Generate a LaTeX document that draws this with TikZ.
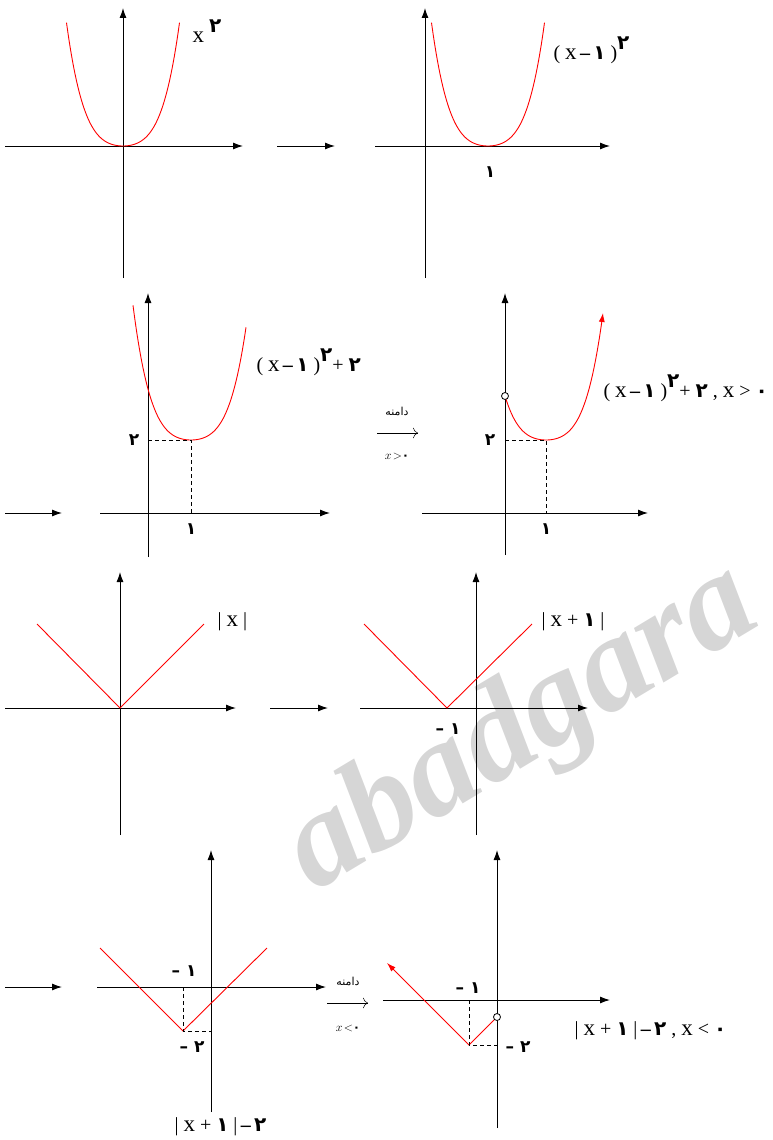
\documentclass[tikz,border=0pt]{standalone}
\usepackage{fontspec}
\setmainfont{Liberation Serif}
\newfontfamily\fafont[Script=Arabic]{DejaVu Sans}
\TeXXeTstate=1
\usetikzlibrary{arrows.meta}
\newcommand\fa[1]{{\fafont\bfseries #1}}
\newcommand\up[1]{\raisebox{0.5em}{\fa{#1}}}
\newcommand\mn{\,{\bfseries\textendash}\,}
\newcommand\xx{{\fontsize{23}{23}\selectfont x}}
\begin{document}
\begin{tikzpicture}[x=1pt,y=-1pt,>={Latex[length=10pt,width=7pt]},line width=1pt,
  curve/.style={red,line width=0.9pt},
  guide/.style={line width=0.8pt,dash pattern=on 4pt off 3pt},
  lab/.style={font=\fontsize{20}{22}\selectfont,inner sep=0pt,anchor=west},
  tick/.style={font=\fafont\bfseries\fontsize{17}{18}\selectfont,inner sep=0pt},
  small/.style={font=\fontsize{12}{13}\selectfont,inner sep=0pt},
  hole/.style={circle,draw,fill=white,inner sep=0pt,minimum size=7pt,line width=0.8pt},
  declare function={pb(\t)=1.233*(\t/10)*(\t/10)+0.0824*(\t/10)*(\t/10)*(\t/10)*(\t/10);}]
\useasboundingbox (0,0) rectangle (772,1140);
\node[rotate=31,anchor=base west,inner sep=0pt,text=black!16,font=\bfseries\itshape\fontsize{135}{135}\selectfont] (mark) at (314,893) {abadgara};
% row 1
\draw[->] (5,146) -- (243,146);
\draw[->] (123,278) -- (123,8);
\draw[curve] plot[domain=-56.5:56.5,samples=80,smooth] ({123+\x},{146-pb(\x)});
\node[lab] (f1) at (192,31) {\xx\ \up{۲}};
\draw[->] (277,146) -- (335,146);
\draw[->] (375,146) -- (610,146);
\draw[->] (425,278) -- (425,8);
\draw[curve] plot[domain=-56.5:56.5,samples=80,smooth] ({488+\x},{146-pb(\x)});
\node[tick] (one2) at (490,172) {۱};
\node[lab] (f2) at (553,50) {( \xx\mn\fa{۱} )\up{۲}};
% row 2
\draw[->] (5,513) -- (62,513);
\draw[->] (100,513) -- (330,513);
\draw[->] (148,557) -- (148,293);
\draw[curve] plot[domain=-58:55,samples=80,smooth] ({191+\x},{440-pb(\x)});
\draw[guide] (148,440) -- (191,440) -- (191,513);
\node[tick] (two3) at (134,440) {۲};
\node[tick] (one3) at (191,529) {۱};
\node[lab] (f3) at (256,362) {( \xx\mn\fa{۱} )\up{۲}+ \fa{۲}};
\node[small,font=\fafont\fontsize{11}{12}\selectfont] (dom1) at (397,411) {\beginR دامنه\endR};
\draw[-{To[length=5pt]},line width=0.5pt] (377,433) -- (418,433);
\node[small] (cond1) at (397,456) {$x\!>$\fa{۰}};
\draw[->] (422,513) -- (648,513);
\draw[->] (505,555) -- (505,293);
\draw[curve,-{Latex[length=9pt,width=6pt]}] plot[domain=-41:57,samples=80,smooth] ({546+\x},{440-pb(\x)});
\draw[guide] (505,440) -- (546,440) -- (546,513);
\node[hole] (open4) at (505,396) {};
\node[tick] (two4) at (490,440) {۲};
\node[tick] (one4) at (546,529) {۱};
\node[lab] (f4) at (603,388) {( \xx\mn\fa{۱} )\up{۲}+ \fa{۲} , \xx\ > \fa{۰}};
% row 3
\draw[->] (5,708) -- (236,708);
\draw[->] (120,835) -- (120,572);
\draw[curve] (37,624) -- (120,708) -- (204,624);
\node[lab] (f5) at (217,622) {| \xx\ |};
\draw[->] (270,708) -- (328,708);
\draw[->] (360,708) -- (588,708);
\draw[->] (476,835) -- (476,572);
\draw[curve] (364,624) -- (447,708) -- (532,624);
\node[tick] (m1six) at (448,729) {\textendash\ ۱};
\node[lab] (f6) at (541,622) {| \xx\ + \fa{۱} |};
% row 4
\draw[->] (5,987) -- (62,987);
\draw[->] (97,987) -- (326,987);
\draw[->] (211,1112) -- (211,850);
\draw[curve] (100,948) -- (183,1031) -- (267,948);
\draw[guide] (183,987) -- (183,1031) -- (211,1031);
\node[tick] (m1sev) at (184,971) {\textendash\ ۱};
\node[tick] (m2sev) at (192,1047) {\textendash\ ۲};
\node[lab] (f7) at (174,1127) {| \xx\ + \fa{۱} |\mn\fa{۲}};
\node[small,font=\fafont\fontsize{11}{12}\selectfont] (dom2) at (348,981) {\beginR دامنه\endR};
\draw[-{To[length=5pt]},line width=0.5pt] (327,1003) -- (368,1003);
\node[small] (cond2) at (348,1028) {$x\!<$\fa{۰}};
\draw[->] (383,1000) -- (610,1000);
\draw[->] (497,1128) -- (497,850);
\draw[curve,-{Latex[length=9pt,width=6pt]}] (497,1017) -- (469,1045) -- (387,963);
\draw[guide] (469,1000) -- (469,1045) -- (497,1045);
\node[hole] (open8) at (497,1017) {};
\node[tick] (m1eig) at (468,988) {\textendash\ ۱};
\node[tick] (m2eig) at (518,1047) {\textendash\ ۲};
\node[lab] (f8) at (574,1031) {| \xx\ + \fa{۱} |\mn\fa{۲} , \xx\ < \fa{۰}};
\end{tikzpicture}
\end{document}
